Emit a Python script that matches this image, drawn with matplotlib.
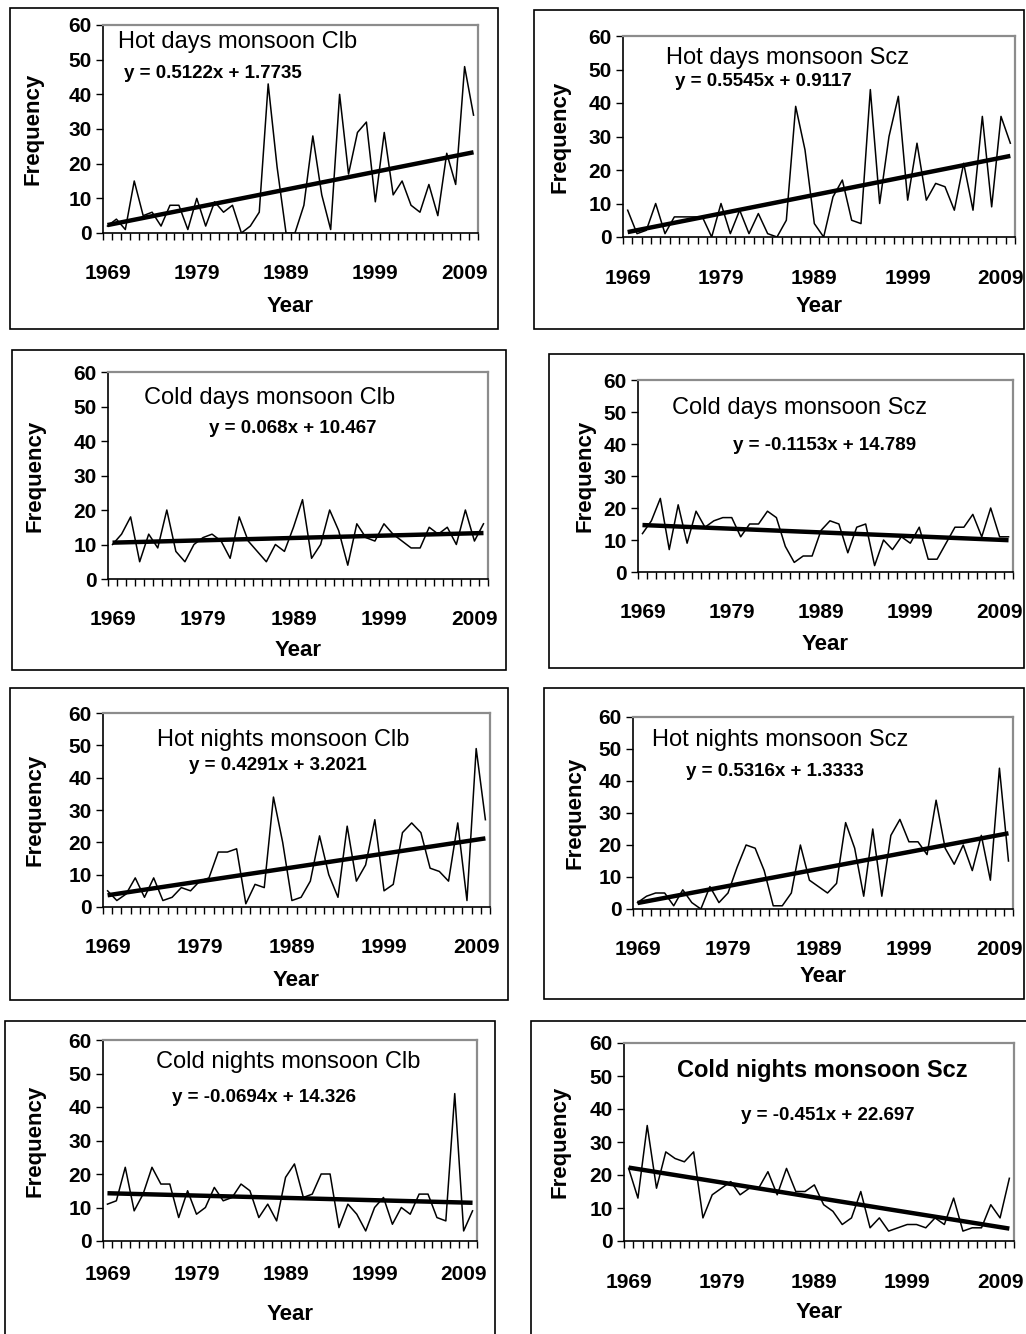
import matplotlib
matplotlib.use('Agg')
import matplotlib.pyplot as plt
from matplotlib.patches import Rectangle
import numpy as np

years = np.arange(1969, 2011)
year_labels = ['1969', '1979', '1989', '1999', '2009']

hot_days_clb = [2, 4, 1, 15, 5, 6, 2, 8, 8, 1, 10, 2, 9, 6, 8, 0, 2, 6, 43, 19, 0,
                0, 8, 28, 11, 1, 40, 17, 29, 32, 9, 29, 11, 15, 8, 6, 14, 5, 23, 14, 48, 34]
hot_days_scz = [8, 1, 2, 10, 1, 6, 6, 6, 6, 0, 10, 1, 8, 1, 7, 1, 0, 5, 39, 26, 4,
                0, 12, 17, 5, 4, 44, 10, 30, 42, 11, 28, 11, 16, 15, 8, 22, 8, 36, 9, 36, 28]
cold_days_clb = [10, 13, 18, 5, 13, 9, 20, 8, 5, 10, 12, 13, 11, 6, 18, 11, 8, 5, 10, 8, 15,
                 23, 6, 10, 20, 14, 4, 16, 12, 11, 16, 13, 11, 9, 9, 15, 13, 15, 10, 20, 11, 16]
cold_days_scz = [12, 16, 23, 7, 21, 9, 19, 14, 16, 17, 17, 11, 15, 15, 19, 17, 8, 3, 5, 5, 13,
                 16, 15, 6, 14, 15, 2, 10, 7, 11, 9, 14, 4, 4, 9, 14, 14, 18, 11, 20, 11, 11]
hot_nights_clb = [5, 2, 4, 9, 3, 9, 2, 3, 6, 5, 8, 9, 17, 17, 18, 1, 7, 6, 34, 20, 2,
                  3, 8, 22, 10, 3, 25, 8, 13, 27, 5, 7, 23, 26, 23, 12, 11, 8, 26, 2, 49, 27]
hot_nights_scz = [2, 4, 5, 5, 1, 6, 2, 0, 7, 2, 5, 13, 20, 19, 12, 1, 1, 5, 20, 9, 7,
                  5, 8, 27, 19, 4, 25, 4, 23, 28, 21, 21, 17, 34, 19, 14, 20, 12, 23, 9, 44, 15]
cold_nights_clb = [11, 12, 22, 9, 14, 22, 17, 17, 7, 15, 8, 10, 16, 12, 13, 17, 15, 7, 11, 6, 19,
                   23, 13, 14, 20, 20, 4, 11, 8, 3, 10, 13, 5, 10, 8, 14, 14, 7, 6, 44, 3, 9]
cold_nights_scz = [22, 13, 35, 16, 27, 25, 24, 27, 7, 14, 16, 18, 14, 16, 16, 21, 14, 22, 15, 15, 17,
                   11, 9, 5, 7, 15, 4, 7, 3, 4, 5, 5, 4, 7, 5, 13, 3, 4, 4, 11, 7, 19]

titles = ['Hot days monsoon Clb', 'Hot days monsoon Scz', 'Cold days monsoon Clb',
          'Cold days monsoon Scz', 'Hot nights monsoon Clb', 'Hot nights monsoon Scz',
          'Cold nights monsoon Clb', 'Cold nights monsoon Scz']
slopes = [0.5122, 0.5545, 0.068, -0.1153, 0.4291, 0.5316, -0.0694, -0.451]
intercepts = [1.7735, 0.9117, 10.467, 14.789, 3.2021, 1.3333, 14.326, 22.697]
equations = ['y = 0.5122x + 1.7735', 'y = 0.5545x + 0.9117', 'y = 0.068x + 10.467',
             'y = -0.1153x + 14.789', 'y = 0.4291x + 3.2021', 'y = 0.5316x + 1.3333',
             'y = -0.0694x + 14.326', 'y = -0.451x + 22.697']
series = [hot_days_clb, hot_days_scz, cold_days_clb, cold_days_scz,
          hot_nights_clb, hot_nights_scz, cold_nights_clb, cold_nights_scz]

W, H = 1026, 1334
NARROW = ['Liberation Sans Narrow', 'Liberation Sans', 'DejaVu Sans']
ARIAL = ['Liberation Sans', 'DejaVu Sans']

# layout in pixels: plot area, outer box, title/equation centres, axis label spots
plot_px = [(103, 25, 478, 233), (623, 36, 1015, 237), (108, 372, 488, 579), (638, 380, 1013, 572),
           (103, 713, 490, 907), (633, 717, 1013, 909), (103, 1040, 477, 1241), (624, 1043, 1014, 1241)]
box_px = [(10, 8, 498, 329), (534, 10, 1024, 329), (12, 350, 506, 670), (549, 354, 1024, 668),
          (10, 688, 508, 1000), (544, 688, 1024, 999), (5, 1021, 495, 1340), (531, 1021, 1030, 1340)]
title_px = [(238, 42), (787, 58), (270, 398), (800, 408), (283, 740), (780, 740), (288, 1062), (822, 1070)]
eq_px = [(213, 73), (763, 82), (293, 428), (825, 445), (278, 765), (775, 772), (264, 1098), (828, 1115)]
year_y = [306, 306, 650, 645, 980, 977, 1315, 1312]
freq_x = [33, 560, 35, 585, 35, 575, 35, 560]
tick_pad = [22, 23, 22, 22, 22, 22, 17, 23]

fig = plt.figure(figsize=(W / 100, H / 100), dpi=100)

x = np.arange(1, len(years) + 1)
for i in range(8):
    x0, y0, x1, y1 = plot_px[i]
    ax = fig.add_axes([x0 / W, 1 - y1 / H, (x1 - x0) / W, (y1 - y0) / H])
    ax.plot(x, series[i], color='black', lw=1.1)
    ax.plot(x, slopes[i] * x + intercepts[i], color='black', lw=3.2, solid_capstyle='butt')
    ax.set_xlim(0.5, len(years) + 0.5)
    ax.set_ylim(0, 60)
    ax.set_xticks(np.arange(0.5, len(years) + 1))
    ax.set_xticklabels([])
    ax.tick_params(axis='x', which='major', direction='out', length=5, width=1, color='black')
    ax.set_xticks([1, 11, 21, 31, 41], minor=True)
    ax.set_xticklabels(year_labels, minor=True, fontfamily=NARROW, fontweight='bold', fontsize=15)
    ax.tick_params(axis='x', which='minor', length=0, pad=tick_pad[i])
    ax.set_yticks(range(0, 61, 10))
    ax.set_yticklabels([str(v) for v in range(0, 61, 10)], fontfamily=NARROW, fontweight='bold', fontsize=15)
    ax.tick_params(axis='y', direction='out', length=5, width=1, pad=3)
    for s in ['left', 'bottom']:
        ax.spines[s].set_color('black')
        ax.spines[s].set_linewidth(1.2)
    for s in ['top', 'right']:
        ax.spines[s].set_color('#8c8c8c')
        ax.spines[s].set_linewidth(1.6)

    bx0, by0, bx1, by1 = box_px[i]
    fig.patches.append(Rectangle((bx0 / W, 1 - by1 / H), (bx1 - bx0) / W, (by1 - by0) / H,
                                 transform=fig.transFigure, fill=False, edgecolor='black', lw=1.2))

    tx, ty = title_px[i]
    fig.text(tx / W, 1 - ty / H, titles[i], ha='center', va='center', fontfamily=ARIAL,
             fontsize=17, fontweight='bold' if i == 7 else 'normal')
    ex, ey = eq_px[i]
    fig.text(ex / W, 1 - ey / H, equations[i], ha='center', va='center', fontfamily=ARIAL,
             fontsize=13.5, fontweight='bold')
    fig.text((x0 + x1) / 2 / W, 1 - year_y[i] / H, 'Year', ha='center', va='center',
             fontfamily=NARROW, fontweight='bold', fontsize=16)
    fig.text(freq_x[i] / W, 1 - (y0 + y1) / 2 / H, 'Frequency', ha='center', va='center',
             rotation=90, fontfamily=ARIAL, fontweight='bold', fontsize=16)

fig.savefig('out.png', dpi=100, facecolor='white')
